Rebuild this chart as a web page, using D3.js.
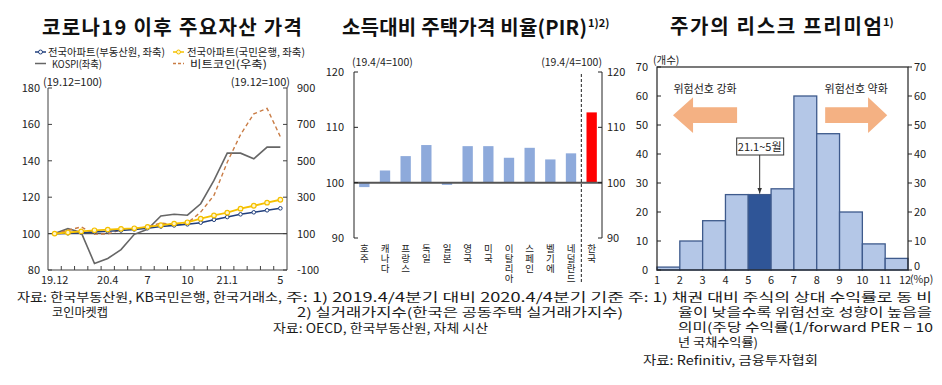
<!DOCTYPE html>
<html><head><meta charset="utf-8">
<script src="https://cdn.jsdelivr.net/npm/d3@7"></script>
<style>
html,body{margin:0;padding:0;background:#fff;}
svg{display:block;}
text{font-family:"Noto Sans CJK KR","Noto Sans",sans-serif;fill:#222;}
.vert{writing-mode:vertical-rl;text-orientation:upright;}
</style></head><body>
<svg id="c" width="942" height="385"></svg>
<script>
// ---------- DATA ----------
// Chart 1: 코로나19 이후 주요자산 가격 (19.12=100)
const months = ["19.12","20.1","20.2","20.3","20.4","20.5","20.6","20.7","20.8","20.9","20.10","20.11","20.12","21.1","21.2","21.3","21.4","21.5"];
const monthTickLabels = ["19.12","","","","20.4","","","7","","","10","","","21.1","","","","5"];
const aptREB = [100,100.2,100.5,100.9,101.3,101.7,102.3,103.0,103.9,104.5,105.1,106.0,107.6,109.1,110.6,111.7,112.8,113.9];
const aptKB  = [100,100.6,101.2,101.8,102.2,102.6,102.9,103.7,104.6,105.5,106.2,108.2,110.0,111.5,113.7,115.3,117.0,118.6];
const kospi  = [100,102.7,100.7,83.6,86.3,91.2,99.6,102.4,109.7,110.6,110.1,116.4,129.2,144.2,144.2,141.1,147.5,147.5];
const bitcoin= [100,118,137,97,98,122,127,137,158,151,158,218,310,492,644,758,788,632];
const leftTicks1 = [80,100,120,140,160,180];
const rightTicks1 = [-100,100,300,500,700,900];
const legend1 = ["전국아파트(부동산원, 좌축)","전국아파트(국민은행, 좌축)","KOSPI(좌축)","비트코인(우축)"];

// Chart 2: 소득대비 주택가격 비율(PIR)
const countries = ["호주","캐나다","프랑스","독일","일본","영국","미국","이탈리아","스페인","벨기에","네덜란드","한국"];
const pir = [99.2,102.2,104.8,106.8,99.6,106.6,106.6,104.5,106.3,104.2,105.3,112.7];
const ticks2 = [90,100,110,120];

// Chart 3: 주가의 리스크 프리미엄 (histogram)
const binStarts = [1,2,3,4,5,6,7,8,9,10,11];
const counts = [1,10,17,26,26,28,60,47,20,9,4];
const highlightBin = 5;
const ticks3y = [0,10,20,30,40,50,60,70];
const ticks3x = [1,2,3,4,5,6,7,8,9,10,11,12];

// ---------- DRAW ----------
const svg = d3.select("#c");
const DARK = "#404040";

function title(x, y, txt, len, sup){
  svg.append("text").attr("x",x).attr("y",y)
    .style("font-size","20px").style("font-weight","bold").style("fill","#111")
    .attr("textLength",len).attr("lengthAdjust","spacing").text(txt);
  if(sup) svg.append("text").attr("x",x+len+1).attr("y",y-8).style("font-size","11px").style("font-weight","bold").style("fill","#111").text(sup);
}
title(42, 35, "코로나19 이후 주요자산 가격", 260);
title(342, 35, "소득대비 주택가격 비율(PIR)", 245, "1)2)");
title(670, 34, "주가의 리스크 프리미엄", 212, "1)");

// ===== Chart 1 =====
const x1 = d3.scalePoint().domain(months).range([48,287]).padding(0.5);
const xb1 = d3.scaleBand().domain(months).range([48,287]);
const yL = d3.scaleLinear().domain([80,180]).range([270,88]);
const yR = d3.scaleLinear().domain([-100,900]).range([270,88]);
const g1 = svg.append("g");

g1.append("line").attr("x1",48).attr("x2",48).attr("y1",yL(180)).attr("y2",yL(80)).attr("stroke",DARK);
g1.append("line").attr("x1",287).attr("x2",287).attr("y1",yR(900)).attr("y2",yR(-100)).attr("stroke",DARK);
g1.append("line").attr("x1",48).attr("x2",287).attr("y1",yL(80)).attr("y2",yL(80)).attr("stroke",DARK);
g1.append("line").attr("x1",48).attr("x2",287).attr("y1",yL(100)).attr("y2",yL(100)).attr("stroke","#555").attr("stroke-width",1.3);
leftTicks1.forEach(v=>{
  g1.append("line").attr("x1",48).attr("x2",52).attr("y1",yL(v)).attr("y2",yL(v)).attr("stroke",DARK);
  g1.append("text").attr("x",40).attr("y",yL(v)+4).attr("text-anchor","end").style("font-size","11px").text(v);
});
rightTicks1.forEach(v=>{
  g1.append("line").attr("x1",283).attr("x2",287).attr("y1",yR(v)).attr("y2",yR(v)).attr("stroke",DARK);
  g1.append("text").attr("x",297).attr("y",yR(v)+4).attr("text-anchor","start").style("font-size","11px").text(v);
});
months.forEach((m,i)=>{
  if(i>0) g1.append("line").attr("x1",xb1(m)).attr("x2",xb1(m)).attr("y1",270).attr("y2",266).attr("stroke",DARK);
  if(monthTickLabels[i]) g1.append("text").attr("x",x1(m)).attr("y",284).attr("text-anchor","middle").style("font-size","11px").text(monthTickLabels[i]);
});
g1.append("text").attr("x",43).attr("y",86).style("font-size","11px").text("(19.12=100)");
g1.append("text").attr("x",290).attr("y",86).attr("text-anchor","end").style("font-size","11px").text("(19.12=100)");

const lineL = d3.line().x((d,i)=>x1(months[i])).y(d=>yL(d));
const lineR = d3.line().x((d,i)=>x1(months[i])).y(d=>yR(d));
const C_REB="#213f7d", C_KB="#f5c000", C_KOSPI="#666666", C_BTC="#c97c45";
g1.append("path").datum(kospi).attr("d",lineL).attr("fill","none").attr("stroke",C_KOSPI).attr("stroke-width",1.6);
g1.append("path").datum(bitcoin).attr("d",lineR).attr("fill","none").attr("stroke",C_BTC).attr("stroke-width",1.4).attr("stroke-dasharray","4,3");
g1.append("path").datum(aptREB).attr("d",lineL).attr("fill","none").attr("stroke",C_REB).attr("stroke-width",1.6);
g1.selectAll(".pr").data(aptREB).enter().append("circle").attr("cx",(d,i)=>x1(months[i])).attr("cy",d=>yL(d)).attr("r",1.8).attr("fill","#fff").attr("stroke",C_REB).attr("stroke-width",1);
g1.append("path").datum(aptKB).attr("d",lineL).attr("fill","none").attr("stroke",C_KB).attr("stroke-width",1.8);
g1.selectAll(".pk").data(aptKB).enter().append("circle").attr("cx",(d,i)=>x1(months[i])).attr("cy",d=>yL(d)).attr("r",2.3).attr("fill","#fff6cc").attr("stroke",C_KB).attr("stroke-width",1.2);

// legend
function legLine(x,y,col,dash,marker,fill){
  g1.append("line").attr("x1",x).attr("x2",x+11).attr("y1",y).attr("y2",y).attr("stroke",col).attr("stroke-width",1.5).attr("stroke-dasharray",dash||null);
  if(marker) g1.append("circle").attr("cx",x+5.5).attr("cy",y).attr("r",2).attr("fill",fill).attr("stroke",col);
}
function legText(x,y,txt,len){
  g1.append("text").attr("x",x).attr("y",y).style("font-size","10.5px").attr("textLength",len).attr("lengthAdjust","spacingAndGlyphs").text(txt);
}
legLine(35,52,C_REB,null,true,"#fff");
legText(48,56,legend1[0],117);
legLine(173,52,C_KB,null,true,"#fff6cc");
legText(187,56,legend1[1],118);
legLine(35,63.5,C_KOSPI);
legText(52,67.5,legend1[2],50);
legLine(173,63.5,C_BTC,"3,2");
legText(190,67.5,legend1[3],77);

// ===== Chart 2 =====
const x2 = d3.scaleBand().domain(countries).range([354,602]).paddingInner(0.5).paddingOuter(0.25);
const xb2 = d3.scaleBand().domain(countries).range([354,602]);
const y2 = d3.scaleLinear().domain([90,120]).range([238,72]);
const g2 = svg.append("g");
g2.selectAll(".b2").data(pir).enter().append("rect")
  .attr("x",(d,i)=>x2(countries[i])).attr("width",x2.bandwidth())
  .attr("y",d=>y2(Math.max(d,100))).attr("height",d=>Math.abs(y2(d)-y2(100)))
  .attr("fill",(d,i)=>countries[i]==="한국"?"#ff0000":"#8eaadb");
g2.append("line").attr("x1",354).attr("x2",602).attr("y1",y2(100)).attr("y2",y2(100)).attr("stroke","#555").attr("stroke-width",2);
g2.append("line").attr("x1",354).attr("x2",354).attr("y1",y2(120)).attr("y2",y2(90)).attr("stroke","#222");
g2.append("line").attr("x1",602).attr("x2",602).attr("y1",y2(120)).attr("y2",y2(90)).attr("stroke","#222");
ticks2.forEach(v=>{
  g2.append("line").attr("x1",354).attr("x2",358).attr("y1",y2(v)).attr("y2",y2(v)).attr("stroke","#222");
  g2.append("line").attr("x1",598).attr("x2",602).attr("y1",y2(v)).attr("y2",y2(v)).attr("stroke","#222");
  g2.append("text").attr("x",344).attr("y",y2(v)+4).attr("text-anchor","end").style("font-size","11px").text(v);
  g2.append("text").attr("x",607).attr("y",y2(v)+4).attr("text-anchor","start").style("font-size","11px").text(v);
});
const sepX = xb2("한국");
g2.append("line").attr("x1",sepX).attr("x2",sepX).attr("y1",74).attr("y2",284).attr("stroke","#222").attr("stroke-dasharray","3,2");
countries.forEach(c=>{
  const cx = x2(c)+x2.bandwidth()/2;
  g2.append("text").attr("class","vert").attr("x",cx).attr("y",244)
    .style("font-size","9.5px").style("letter-spacing","0.5px").text(c);
});
g2.append("text").attr("x",352).attr("y",66).style("font-size","10.5px").text("(19.4/4=100)");
g2.append("text").attr("x",602).attr("y",66).attr("text-anchor","end").style("font-size","10.5px").text("(19.4/4=100)");

// ===== Chart 3 =====
const x3 = d3.scaleLinear().domain([1,12]).range([657,908]);
const y3 = d3.scaleLinear().domain([0,70]).range([270,67]);
const g3 = svg.append("g");
g3.selectAll(".b3").data(counts).enter().append("rect")
  .attr("x",(d,i)=>x3(binStarts[i])).attr("width",(d,i)=>x3(binStarts[i]+1)-x3(binStarts[i]))
  .attr("y",d=>y3(d)).attr("height",d=>y3(0)-y3(d))
  .attr("fill",(d,i)=>binStarts[i]===highlightBin?"#2f5597":"#b4c7e7")
  .attr("stroke","#3e5a8c").attr("stroke-width",1.3);
g3.append("rect").attr("x",x3(1)).attr("y",y3(70)).attr("width",x3(12)-x3(1)).attr("height",y3(0)-y3(70)).attr("fill","none").attr("stroke","#222").attr("stroke-width",1.2);
ticks3y.forEach(v=>{
  g3.append("line").attr("x1",x3(1)).attr("x2",x3(1)+4).attr("y1",y3(v)).attr("y2",y3(v)).attr("stroke","#222");
  g3.append("line").attr("x1",x3(12)).attr("x2",x3(12)+4).attr("y1",y3(v)).attr("y2",y3(v)).attr("stroke","#222");
  g3.append("text").attr("x",648).attr("y",y3(v)+4).attr("text-anchor","end").style("font-size","11px").text(v);
  g3.append("text").attr("x",914).attr("y",y3(v)+(v===0?0:4)).attr("text-anchor","start").style("font-size","11px").text(v);
});
ticks3x.forEach(v=>{
  g3.append("text").attr("x",x3(v)-(v===12?3:0)).attr("y",284).attr("text-anchor","middle").style("font-size","11px").text(v);
});
g3.append("text").attr("x",910).attr("y",283).style("font-size","10.5px").text("(%p)");
g3.append("text").attr("x",653).attr("y",64).style("font-size","10.5px").text("(개수)");

// arrows (annotation)
const AC = "#f4b183";
const yc = y3(53.4), hh = y3(47.2)-yc, bh = y3(50.7)-yc;
const lt = x3(1.70), lh = x3(2.58), lb = x3(4.51);
g3.append("polygon").attr("fill",AC).attr("points",[[lt,yc],[lh,yc-hh],[lh,yc-bh],[lb,yc-bh],[lb,yc+bh],[lh,yc+bh],[lh,yc+hh]].map(p=>p.join(",")).join(" "));
const rb = x3(8.37), rh = x3(10.25), rt = x3(11.09);
g3.append("polygon").attr("fill",AC).attr("points",[[rt,yc],[rh,yc-hh],[rh,yc-bh],[rb,yc-bh],[rb,yc+bh],[rh,yc+bh],[rh,yc+hh]].map(p=>p.join(",")).join(" "));
g3.append("text").attr("x",(lt+lb)/2).attr("y",y3(61.2)).attr("text-anchor","middle").style("font-size","11px").text("위험선호 강화");
g3.append("text").attr("x",(rb+rt)/2).attr("y",y3(61.2)).attr("text-anchor","middle").style("font-size","11px").text("위험선호 약화");
const ax = x3(highlightBin+0.5);
svg.append("defs").append("marker").attr("id","ah").attr("viewBox","0 0 10 10").attr("refX",10).attr("refY",5)
  .attr("markerWidth",6).attr("markerHeight",6).attr("orient","auto")
  .append("path").attr("d","M0,1 L10,5 L0,9 z").attr("fill","#333");
g3.append("line").attr("x1",ax).attr("x2",ax).attr("y1",155).attr("y2",y3(26)-1).attr("stroke","#333").attr("stroke-width",1).attr("marker-end","url(#ah)");
g3.append("rect").attr("x",ax-23).attr("y",138).attr("width",47).attr("height",17).attr("fill","#fff").attr("stroke","#333");
g3.append("text").attr("x",ax).attr("y",150.5).attr("text-anchor","middle").style("font-size","11px").text("21.1~5월");

// ===== Footnotes =====
function note(x,y,txt,len){
  const t = svg.append("text").attr("x",x).attr("y",y).style("font-size","12.5px").style("fill","#1a1a1a").text(txt);
  if(len) t.attr("textLength",len).attr("lengthAdjust","spacingAndGlyphs");
}
note(17,302,"자료: 한국부동산원, KB국민은행, 한국거래소,",265);
note(52,317,"코인마켓캡",56);
note(286,302,"주: 1) 2019.4/4분기 대비 2020.4/4분기 기준",338);
note(297,317,"2) 실거래가지수(한국은 공동주택 실거래가지수)",326);
note(273,333,"자료: OECD, 한국부동산원, 자체 시산",215);
note(628,302,"주: 1) 채권 대비 주식의 상대 수익률로 동 비",304);
note(678,317,"율이 낮을수록 위험선호 성향이 높음을",254);
note(678,332,"의미(주당 수익률(1/forward PER − 10",255);
note(678,347,"년 국채수익률)",80);
note(643,365,"자료: Refinitiv, 금융투자협회",175);
</script>
</body></html>
